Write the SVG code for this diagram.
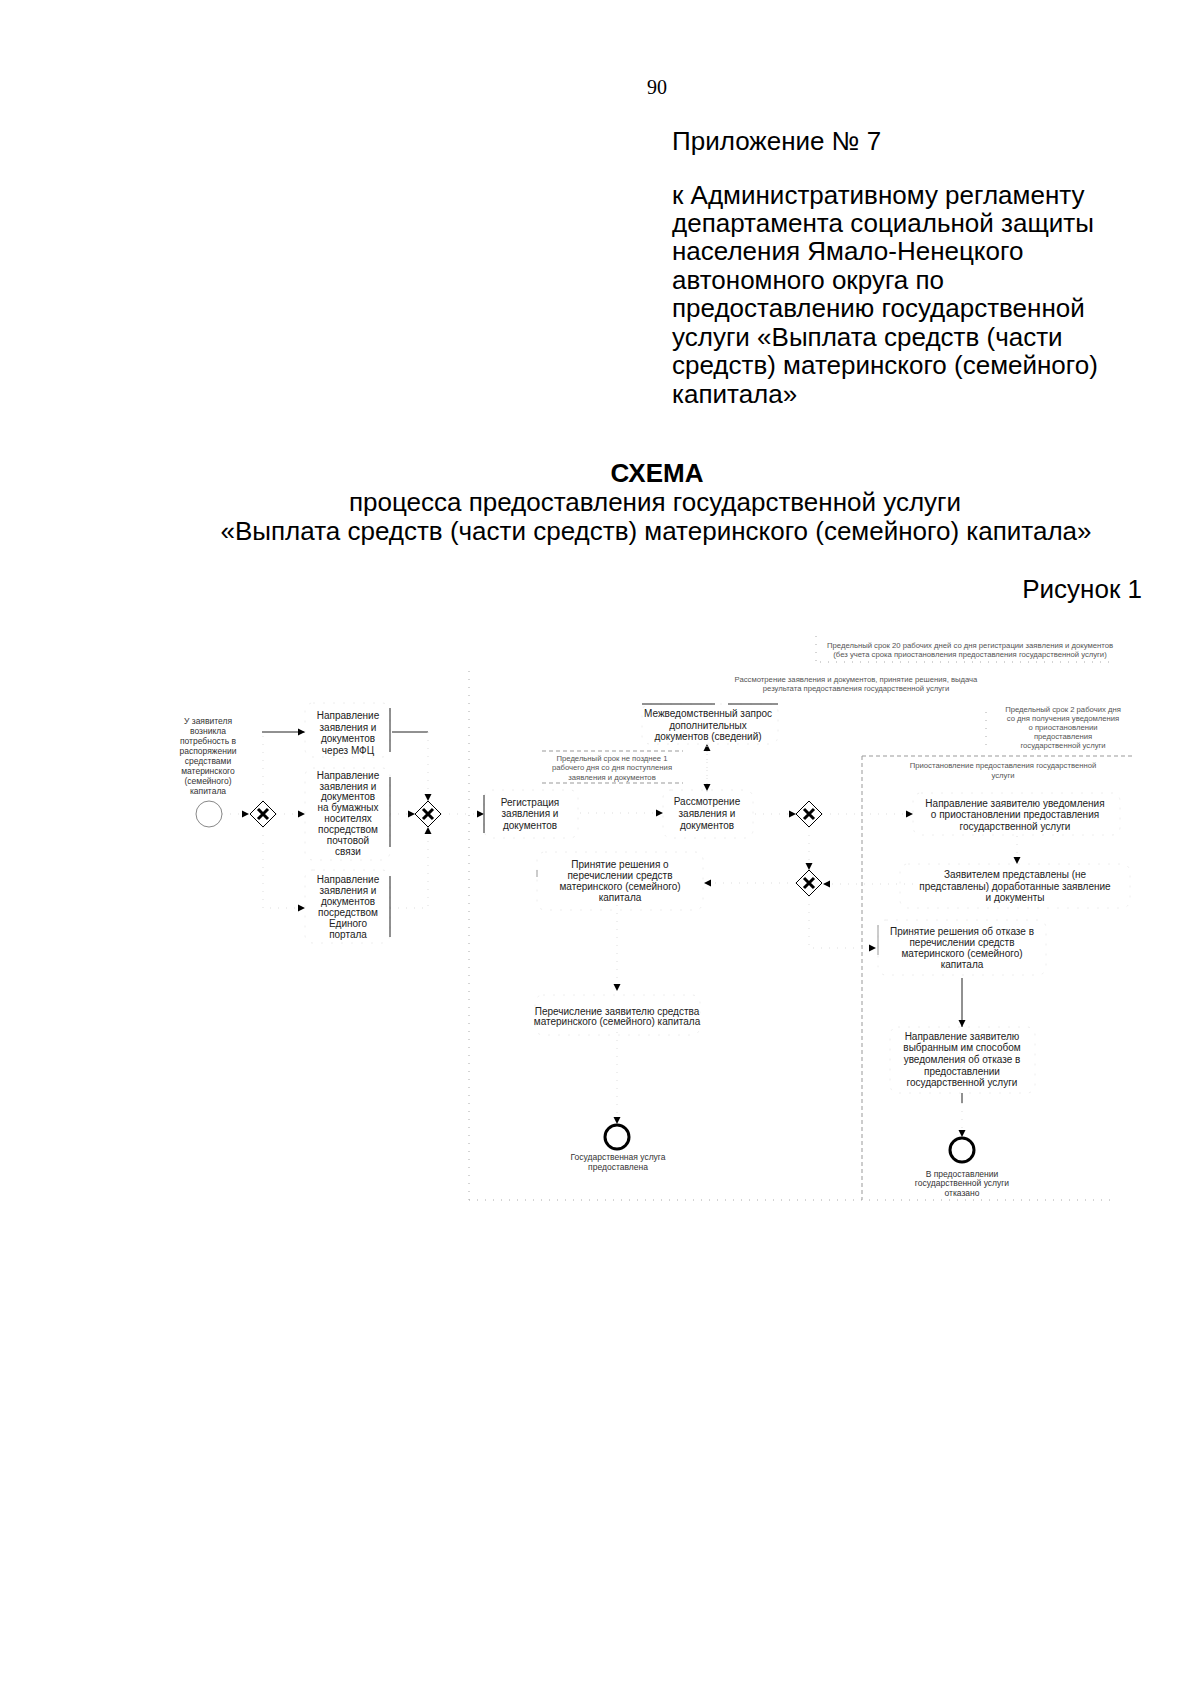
<svg xmlns="http://www.w3.org/2000/svg" width="1200" height="1697" viewBox="0 0 1200 1697">
<style>
.hdr{font-family:"Liberation Sans",Arial,sans-serif;font-size:26px;fill:#000}
.pg{font-family:"Liberation Serif","Times New Roman",serif;font-size:20px;fill:#000}
.t{font-family:"Liberation Sans",Arial,sans-serif;font-size:10px;fill:#222;text-anchor:middle}
.s{font-family:"Liberation Sans",Arial,sans-serif;font-size:8.5px;fill:#333;text-anchor:middle}
.a{font-family:"Liberation Sans",Arial,sans-serif;font-size:7.7px;fill:#555;text-anchor:middle}
.box{fill:none;stroke:#eeeeee;stroke-width:1;stroke-dasharray:2 8}
.edge{stroke:#222;stroke-width:1;fill:none}
.gedge{stroke:#999;stroke-width:1;fill:none}
.faint{stroke:#dddddd;stroke-width:1;fill:none;stroke-dasharray:1 7}
.lane{stroke:#aaa;stroke-width:1;fill:none;stroke-dasharray:1 7}
.grp{stroke:#999;stroke-width:1;fill:none;stroke-dasharray:4 3}
.gw{fill:#fff;stroke:#000;stroke-width:1}
.gx{stroke:#000;stroke-width:3;stroke-linecap:butt}
</style>
<defs>
<marker id="ah" markerWidth="8" markerHeight="8" refX="7" refY="4" orient="auto" markerUnits="userSpaceOnUse">
<path d="M0,0.5 L7,4 L0,7.5 z" fill="#000"/>
</marker>
</defs>

<g id="header">
<text class="pg" x="657" y="94" text-anchor="middle">90</text>
<text class="hdr" x="672" y="150">Приложение № 7</text>
<text class="hdr" x="672" y="204">к Административному регламенту</text>
<text class="hdr" x="672" y="232">департамента социальной защиты</text>
<text class="hdr" x="672" y="260">населения Ямало-Ненецкого</text>
<text class="hdr" x="672" y="289">автономного округа по</text>
<text class="hdr" x="672" y="317">предоставлению государственной</text>
<text class="hdr" x="672" y="346">услуги «Выплата средств (части</text>
<text class="hdr" x="672" y="374">средств) материнского (семейного)</text>
<text class="hdr" x="672" y="403">капитала»</text>
<text class="hdr" x="657" y="482" text-anchor="middle" font-weight="bold">СХЕМА</text>
<text class="hdr" x="655" y="511" text-anchor="middle">процесса предоставления государственной услуги</text>
<text class="hdr" x="656" y="540" text-anchor="middle">«Выплата средств (части средств) материнского (семейного) капитала»</text>
<text class="hdr" x="1142" y="598" text-anchor="end">Рисунок 1</text>
</g>

<g id="lanes">
<path class="lane" d="M469,671 V1200"/>
<path class="lane" d="M469,1200 H1110"/>
<path class="grp" d="M862,756 H1135 M862,756 V1200"/>
<path class="lane" d="M820,662 H1115"/>
<path class="lane" d="M816,636 V662"/>
<path class="lane" d="M986,712 V752"/>
<path class="grp" d="M542,751 H683 M542,783 H683" stroke="#bbb"/>
</g>

<g id="annotations">
<text class="a" x="970" y="648">Предельный срок 20 рабочих дней со дня регистрации заявления и документов</text>
<text class="a" x="970" y="657">(без учета срока приостановления предоставления государственной услуги)</text>
<text class="a" x="856" y="682">Рассмотрение заявления и документов, принятие решения, выдача</text>
<text class="a" x="856" y="691">результата предоставления государственной услуги</text>
<text class="a" x="612" y="761">Предельный срок не позднее 1</text>
<text class="a" x="612" y="770">рабочего дня со дня поступления</text>
<text class="a" x="612" y="780">заявления и документов</text>
<text class="a" x="1063" y="712">Предельный срок 2 рабочих дня</text>
<text class="a" x="1063" y="721">со дня получения уведомления</text>
<text class="a" x="1063" y="730">о приостановлении</text>
<text class="a" x="1063" y="739">предоставления</text>
<text class="a" x="1063" y="748">государственной услуги</text>
<text class="a" x="1003" y="768">Приостановление предоставления государственной</text>
<text class="a" x="1003" y="778">услуги</text>
</g>

<g id="connectors">
<path class="faint" d="M222,814 H249" marker-end="url(#ah)"/>
<path class="faint" d="M263,801 V732 H262"/>
<path class="edge" d="M262,732 H305" marker-end="url(#ah)"/>
<path class="faint" d="M276,814 H305" marker-end="url(#ah)"/>
<path class="faint" d="M263,827 V908 H305" marker-end="url(#ah)"/>
<path class="edge" d="M392,732 H428"/>
<path class="faint" d="M428,732 V801" marker-end="url(#ah)"/>
<path class="faint" d="M390,814 H415" marker-end="url(#ah)"/>
<path class="faint" d="M390,908 H428 V827" marker-end="url(#ah)"/>
<path class="faint" d="M441,814 H484" marker-end="url(#ah)"/>
<path class="faint" d="M580,813 H663" marker-end="url(#ah)"/>
<path class="faint" d="M707,792 V744" marker-end="url(#ah)"/>
<path class="faint" d="M707,746 V791" marker-end="url(#ah)"/>
<path class="faint" d="M755,814 H796" marker-end="url(#ah)"/>
<path class="faint" d="M822,814 H913" marker-end="url(#ah)"/>
<path class="faint" d="M809,827 V870" marker-end="url(#ah)"/>
<path class="faint" d="M1017,836 V864" marker-end="url(#ah)"/>
<path class="faint" d="M945,884 H823" marker-end="url(#ah)"/>
<path class="faint" d="M796,883 H704" marker-end="url(#ah)"/>
<path class="faint" d="M809,896 V948 H876" marker-end="url(#ah)"/>
<path class="faint" d="M617,905 V991" marker-end="url(#ah)"/>
<path class="faint" d="M617,1032 V1124" marker-end="url(#ah)"/>
<path class="edge" d="M962,978 V1027" marker-end="url(#ah)"/>
<path class="edge" d="M962,1093 V1103"/>
<path class="faint" d="M962,1103 V1137" marker-end="url(#ah)"/>
</g>

<g id="start">
<circle cx="209" cy="814" r="13" fill="#fff" stroke="#888" stroke-width="1"/>
<text class="s" x="208" y="724">У заявителя</text>
<text class="s" x="208" y="734">возникла</text>
<text class="s" x="208" y="744">потребность в</text>
<text class="s" x="208" y="754">распоряжении</text>
<text class="s" x="208" y="764">средствами</text>
<text class="s" x="208" y="774">материнского</text>
<text class="s" x="208" y="784">(семейного)</text>
<text class="s" x="208" y="794">капитала</text>
</g>

<g id="gw1"><path class="gw" d="M263,801 L276,814 L263,827 L250,814 z"/><path class="gx" d="M258,809 L268,819 M268,809 L258,819"/></g>
<g id="gw2"><path class="gw" d="M428,801 L441,814 L428,827 L415,814 z"/><path class="gx" d="M423,809 L433,819 M433,809 L423,819"/></g>
<g id="gw3"><path class="gw" d="M809,801 L822,814 L809,827 L796,814 z"/><path class="gx" d="M804,809 L814,819 M814,809 L804,819"/></g>
<g id="gw4"><path class="gw" d="M809,870 L822,883 L809,896 L796,883 z"/><path class="gx" d="M804,878 L814,888 M814,878 L804,888"/></g>

<g id="task-mfc">
<rect class="box" x="305" y="703" width="85" height="54" rx="8"/>
<path class="edge" d="M390,708 V752"/>
<text class="t" x="348" y="719">Направление</text>
<text class="t" x="348" y="731">заявления и</text>
<text class="t" x="348" y="742">документов</text>
<text class="t" x="348" y="754">через МФЦ</text>
</g>
<g id="task-post">
<rect class="box" x="305" y="768" width="85" height="92" rx="8"/>
<path class="edge" d="M390,777 V847"/>
<text class="t" x="348" y="779">Направление</text>
<text class="t" x="348" y="790">заявления и</text>
<text class="t" x="348" y="800">документов</text>
<text class="t" x="348" y="811">на бумажных</text>
<text class="t" x="348" y="822">носителях</text>
<text class="t" x="348" y="833">посредством</text>
<text class="t" x="348" y="844">почтовой</text>
<text class="t" x="348" y="855">связи</text>
</g>
<g id="task-portal">
<rect class="box" x="305" y="870" width="85" height="73" rx="8"/>
<path class="edge" d="M390,876 V937"/>
<text class="t" x="348" y="883">Направление</text>
<text class="t" x="348" y="894">заявления и</text>
<text class="t" x="348" y="905">документов</text>
<text class="t" x="348" y="916">посредством</text>
<text class="t" x="348" y="927">Единого</text>
<text class="t" x="348" y="938">портала</text>
</g>
<g id="task-reg">
<rect class="box" x="484" y="790" width="94" height="48" rx="8"/>
<path class="edge" d="M484,795 V833"/>
<text class="t" x="530" y="806">Регистрация</text>
<text class="t" x="530" y="817">заявления и</text>
<text class="t" x="530" y="829">документов</text>
</g>
<g id="task-mezhv">
<rect class="box" x="642" y="704" width="136" height="40" rx="8"/>
<path class="edge" d="M642,704 H715 M728,704 H778"/>
<text class="t" x="708" y="717">Межведомственный запрос</text>
<text class="t" x="708" y="729">дополнительных</text>
<text class="t" x="708" y="740">документов (сведений)</text>
</g>
<g id="task-rass">
<rect class="box" x="663" y="790" width="90" height="48" rx="8"/>
<text class="t" x="707" y="805">Рассмотрение</text>
<text class="t" x="707" y="817">заявления и</text>
<text class="t" x="707" y="829">документов</text>
</g>
<g id="task-prin">
<rect class="box" x="537" y="852" width="166" height="58" rx="8"/>
<path class="gedge" d="M537,870 V877"/>
<text class="t" x="620" y="868">Принятие решения о</text>
<text class="t" x="620" y="879">перечислении средств</text>
<text class="t" x="620" y="890">материнского (семейного)</text>
<text class="t" x="620" y="901">капитала</text>
</g>
<g id="task-perech">
<rect class="box" x="535" y="995" width="165" height="40" rx="8"/>
<text class="t" x="617" y="1015">Перечисление заявителю средства</text>
<text class="t" x="617" y="1025">материнского (семейного) капитала</text>
</g>
<g id="task-napr">
<rect class="box" x="913" y="793" width="207" height="42" rx="8"/>
<text class="t" x="1015" y="807">Направление заявителю уведомления</text>
<text class="t" x="1015" y="818">о приостановлении предоставления</text>
<text class="t" x="1015" y="830">государственной услуги</text>
</g>
<g id="task-zayav">
<rect class="box" x="900" y="864" width="230" height="44" rx="8"/>
<text class="t" x="1015" y="878">Заявителем представлены (не</text>
<text class="t" x="1015" y="890">представлены) доработанные заявление</text>
<text class="t" x="1015" y="901">и документы</text>
</g>
<g id="task-otkaz">
<rect class="box" x="878" y="920" width="168" height="55" rx="8"/>
<path class="gedge" d="M878,925 V955"/>
<text class="t" x="962" y="935">Принятие решения об отказе в</text>
<text class="t" x="962" y="946">перечислении средств</text>
<text class="t" x="962" y="957">материнского (семейного)</text>
<text class="t" x="962" y="968">капитала</text>
</g>
<g id="task-napr2">
<rect class="box" x="890" y="1027" width="145" height="66" rx="8"/>
<text class="t" x="962" y="1040">Направление заявителю</text>
<text class="t" x="962" y="1051">выбранным им способом</text>
<text class="t" x="962" y="1063">уведомления об отказе в</text>
<text class="t" x="962" y="1075">предоставлении</text>
<text class="t" x="962" y="1086">государственной услуги</text>
</g>
<g id="end1">
<circle cx="617" cy="1137" r="12" fill="#fff" stroke="#000" stroke-width="3"/>
<text class="s" x="618" y="1160">Государственная услуга</text>
<text class="s" x="618" y="1170">предоставлена</text>
</g>
<g id="end2">
<circle cx="962" cy="1150" r="12" fill="#fff" stroke="#000" stroke-width="3"/>
<text class="s" x="962" y="1177">В предоставлении</text>
<text class="s" x="962" y="1186">государственной услуги</text>
<text class="s" x="962" y="1196">отказано</text>
</g>
</svg>
